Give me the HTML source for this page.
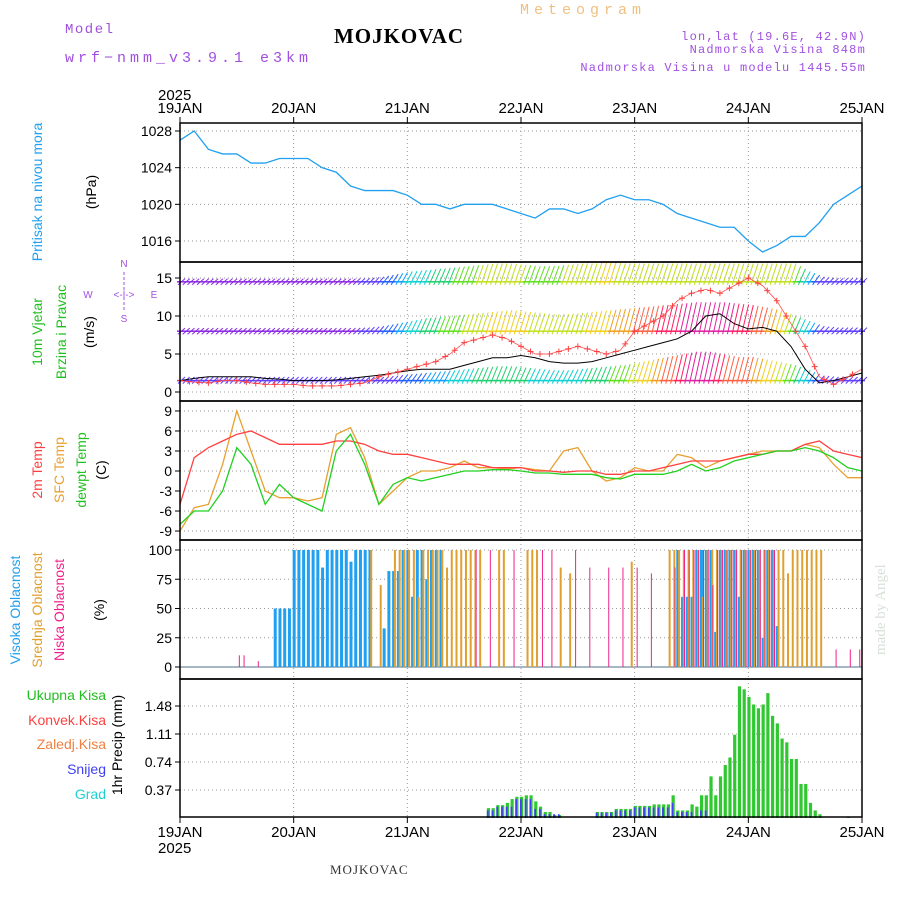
<!DOCTYPE html>
<html><head><meta charset="utf-8"><style>
body{margin:0;background:#fff}
svg{display:block;font-family:"Liberation Sans",sans-serif}
</style></head><body>
<svg id="c" width="900" height="900" viewBox="0 0 900 900">
<text x="65" y="33" fill="#a050e0" font-size="14" font-family="Liberation Mono,monospace" letter-spacing="1.5">Model</text>
<text x="65" y="62" fill="#a050e0" font-size="15" font-family="Liberation Mono,monospace" letter-spacing="4">wrf−nmm_v3.9.1 e3km</text>
<text x="399" y="43" text-anchor="middle" font-family="Liberation Serif,serif" font-weight="bold" font-size="21" letter-spacing="1">MOJKOVAC</text>
<text x="520" y="14" fill="#f0c080" font-size="15" font-family="Liberation Mono,monospace" letter-spacing="5">Meteogram</text>
<text x="866" y="40" text-anchor="end" fill="#a050e0" font-size="12" font-family="Liberation Mono,monospace" letter-spacing="1.2">lon,lat (19.6E, 42.9N)</text>
<text x="866" y="53" text-anchor="end" fill="#a050e0" font-size="12" font-family="Liberation Mono,monospace" letter-spacing="1.2">Nadmorska Visina 848m</text>
<text x="866" y="71" text-anchor="end" fill="#a050e0" font-size="12" font-family="Liberation Mono,monospace" letter-spacing="1.2">Nadmorska Visina u modelu 1445.55m</text>
<text x="158" y="100" font-size="15">2025</text>
<text x="158" y="853" font-size="15">2025</text>
<text x="330" y="874" font-family="Liberation Serif,serif" font-size="13" fill="#333" letter-spacing="1">MOJKOVAC</text>
<text transform="translate(885,655) rotate(-90)" fill="#d8e0d8" font-family="Liberation Serif,serif" font-size="15">made by Angel</text>
<g id="g"></g>
</svg>
<script>
const days=["19JAN","20JAN","21JAN","22JAN","23JAN","24JAN","25JAN"];
const pressure=[1027,1028,1026,1025.5,1025.5,1024.5,1024.5,1025,1025,1025,1024,1023.5,1022,1021.5,1021.5,1021.5,1021,1020,1020,1019.5,1020,1020,1020,1019.5,1019,1018.5,1019.5,1019.5,1019,1019.5,1020.5,1021,1020.5,1020.5,1020,1019,1018.5,1018,1017.5,1017.5,1016,1014.8,1015.5,1016.5,1016.5,1018,1020,1021,1022];
const windMean=[1.5,1.8,2,2,2,2,1.8,1.7,1.5,1.5,1.5,1.6,1.8,2,2.2,2.5,2.8,3,3,3,3.5,4,4.5,4.5,4.8,4.5,4,3.8,3.8,4,4.5,5,5.5,6,6.5,7,8,10,10.3,9,8.3,8.5,8,6,3,1.2,1.5,2,2.5];
const windGust=[1.5,1.3,1.2,1.5,1.5,1.2,1,1,1,0.8,0.8,0.8,1,1.2,2,2.5,3,3.5,4,5,6.5,7,7.5,7,6,5,5,5.5,6,5.5,5,5.5,8,9,10,12,13,13.5,13,14,15,14,12,9,6,2,1,2,3];
const windLow=[0.5,0.5,0.5,0.5,0.5,0.5,0.5,0.5,0.5,0.5,0.5,0.5,0.5,0.5,0.5,1,1.5,2,2.5,3,3.5,4,4.5,4.5,4,3.5,3,3,3.5,4,4.5,5,6,7,8,9,10,10,9,8,8,7,6,5,3,1,0.5,0.5,0.5];
const windMid=[0.3,0.3,0.3,0.3,0.3,0.3,0.3,0.3,0.3,0.3,0.3,0.3,0.3,0.5,1,2,3,4,4.5,5,5.5,6,6.5,7,6.5,6,5.5,5.5,6,6.5,7,7.5,8,8.5,9,9.5,10,10,10,9.5,9,8,7,5,3,1,0.5,0.5,0.5];
const windTop=[0.3,0.3,0.3,0.3,0.3,0.3,0.3,0.3,0.3,0.3,0.3,0.3,0.3,0.5,1,2,3,3.5,4,4.5,5,5.5,6,6,5.5,5,5,5.5,6,6,6.5,6,6,6,6,6,6,6,6,6,6,6,6,6,3,1,0.5,0.5,0.5];
const temp2m=[-5,2,3.5,4.5,5.5,6,5,4,4,4,4,4.5,4.5,4,3,2.5,2.5,2,1.5,1,1,1,0.5,0.5,0.5,0,0,-0.2,0,0,-0.5,-0.5,0,0,0.5,1,1.5,1.5,1.5,2,2.5,2.5,3,3,4,4.5,3,2.5,2];
const tempSfc=[-9,-5.5,-5,1,9,3,-3,-4,-4,-4.5,-4,5.5,6.5,2,-5,-3,-1,0,0,0.5,1.5,0.5,0.5,0.3,0.5,0.2,0,3,3.5,0,-1.5,-1,0.5,0,0,2.5,2,0.5,1.5,2,2.5,3,3,3,4,3.5,1,-1,-1];
const tempDew=[-8,-6,-6,-3,3.5,1,-5,-2,-4,-5,-6,3,5.5,1,-5,-2,-1,-1.5,-1,-0.5,0,0,0.2,0.2,0,-0.3,-0.3,-0.5,-0.5,-0.5,-1,-1.2,-0.5,-0.5,-0.5,0,1,0,0.5,1.5,2,2.5,3,3,3.5,3,2,0.5,0];
function runs(spec){const a=new Array(144).fill(0);spec.forEach(([s,e,v])=>{for(let h=s;h<=e;h++)a[h]=v});return a;}
const cloudHigh=runs([[20,23,50],[24,40,100],[30,30,85],[36,36,90],[43,43,33],[44,46,82],[47,55,100],[49,49,60],[52,52,75],[105,105,100],[106,108,60],[109,112,100],[113,113,30],[114,117,100],[118,118,60],[119,122,100],[123,123,25],[124,125,100],[126,126,35]]);
const cloudMid=runs([[40,40,100],[42,42,70],[45,63,100],[50,50,60],[56,56,85],[67,68,100],[73,75,100],[80,80,85],[82,82,80],[95,95,90],[103,135,100],[110,110,60],[128,128,80]]);
const cloudLow=runs([[12,13,10],[16,16,5],[62,62,100],[65,65,100],[70,70,100],[76,76,100],[78,78,100],[83,83,100],[86,86,85],[90,90,85],[93,93,85],[96,96,85],[99,99,80],[104,104,85],[106,125,100],[112,112,70],[138,138,15],[141,141,15],[143,143,15]]);
const precipTotal=runs([[65,66,0.13],[67,68,0.17],[69,69,0.2],[70,70,0.25],[71,72,0.28],[73,74,0.3],[75,75,0.22],[76,76,0.15],[77,78,0.08],[79,80,0.04],[88,91,0.08],[92,95,0.12],[96,99,0.16],[100,103,0.18],[104,104,0.3],[105,107,0.1],[108,108,0.18],[109,109,0.15],[110,111,0.3],[112,112,0.55],[113,113,0.3],[114,114,0.55],[115,115,0.7],[116,116,0.8],[117,117,1.1],[118,118,1.74],[119,119,1.7],[120,120,1.6],[121,121,1.5],[122,122,1.45],[123,123,1.5],[124,124,1.65],[125,125,1.35],[126,126,1.25],[127,127,1.05],[128,128,1.0],[129,130,0.78],[131,132,0.45],[133,133,0.2],[134,134,0.1],[135,135,0.05],[141,141,0.02]]);
const precipSnow=runs([[65,66,0.1],[67,70,0.15],[71,74,0.25],[75,76,0.12],[77,80,0.05],[88,91,0.07],[92,95,0.1],[96,103,0.14],[104,104,0.2],[105,108,0.08],[110,111,0.1]]);

const NS="http://www.w3.org/2000/svg",G=document.getElementById('g');
function el(t,a,txt){const e=document.createElementNS(NS,t);for(const k in a)e.setAttribute(k,a[k]);if(txt!=null)e.textContent=txt;G.appendChild(e);return e;}
const X0=180,X1=862,xH=h=>X0+(X1-X0)*h/144, x3=i=>xH(i*3);
const P=[{t:123,b:262},{t:262,b:401},{t:401,b:540},{t:540,b:679},{t:679,b:817}];
const yP=v=>131+(1028-v)*110/12, yW=v=>392-v*7.6, yT=v=>471-v*6.67, yC=v=>667-v*1.17, yR=v=>818-v*28/0.37;
const palette=["#8a2be2","#6040ff","#2060ff","#10a0ff","#10d0d0","#20d070","#60e020","#c0e020","#f0d020","#f0a020","#ff6040","#ff2060","#e020a0"];
const wcol=s=>palette[Math.max(0,Math.min(palette.length-1,Math.round(s)))];

[[P[0],[1016,1020,1024,1028],yP],[P[1],[0,5,10,15],yW],[P[2],[-9,-6,-3,0,3,6,9],yT],[P[3],[0,25,50,75,100],yC],[P[4],[0.37,0.74,1.11,1.48],yR]].forEach(([p,ticks,f],pi)=>{
 for(let d=1;d<6;d++){const g=el('line',{x1:X0+d*(X1-X0)/6,x2:X0+d*(X1-X0)/6,y1:p.t,y2:p.b,stroke:'#999','stroke-dasharray':'1 3'});}
 ticks.forEach(v=>{const y=f(v);const g=el('line',{x1:X0,x2:X1,y1:y,y2:y,stroke:'#999','stroke-dasharray':'1 3'});
  el('line',{x1:X0-5,x2:X0,y1:y,y2:y,stroke:'#000'});
  const t=el('text',{x:X0-8,y:y+5,'text-anchor':'end','font-size':14},String(v));});
});
let d="";pressure.forEach((v,i)=>d+=(i?"L":"M")+x3(i)+","+yP(v));
let pl=el('path',{d:d,fill:'none',stroke:'#20a0f0','stroke-width':1.3});


[[windLow,1.5],[windMid,8],[windTop,14.5]].forEach(([arr,base])=>{
 for(let h=0;h<=144;h++){const i=Math.min(47,Math.floor(h/3)),f=(h%3)/3;const s=h>=144?arr[48]:arr[i]*(1-f)+arr[i+1]*f;
  const x=xH(h),y0=yW(base),y1=yW(base+s*0.35+0.3);
  const l=el('line',{x1:x-2,y1:y0+3,x2:x+5,y2:y1,stroke:wcol(s*1.2),'stroke-width':1});
  
  
  el('line',{x1:x-3,y1:y0,x2:x+3,y2:y0,stroke:wcol(s*1.2),'stroke-width':1.5});}
});
d="";windMean.forEach((v,i)=>d+=(i?"L":"M")+x3(i)+","+yW(v));
let wm=el('path',{d:d,fill:'none',stroke:'#000','stroke-width':1});


d="";windGust.forEach((v,i)=>d+=(i?"L":"M")+x3(i)+","+yW(v));
let wg=el('path',{d:d,fill:'none',stroke:'#ff5050','stroke-width':0.8});


for(let h=0;h<144;h+=2){const i=Math.floor(h/3),f=(h%3)/3,v=windGust[i]*(1-f)+windGust[i+1]*f,x=xH(h),y=yW(v);
 const c=el('path',{d:`M${x-3},${y}h6M${x},${y-3}v6`,stroke:'#ff4040','stroke-width':1});
 
 }
[[tempSfc,'#e8a030','sfc-temp-line'],[temp2m,'#ff4040','temp-2m-line'],[tempDew,'#20d020','dewpoint-line']].forEach(([a,c,n])=>{
 let d="";a.forEach((v,i)=>d+=(i?"L":"M")+x3(i)+","+yT(v));
 const p=el('path',{d:d,fill:'none',stroke:c,'stroke-width':1.3});
 
 });
el('line',{x1:X0,x2:X1,y1:yC(0),y2:yC(0),stroke:'#88a0b0','stroke-width':1.5});
[[cloudHigh,'#20a0f0',-1,3],[cloudMid,'#e0a030',0.8,2],[cloudLow,'#f0208c',2,1]].forEach(([a,c,off,w])=>{
 a.forEach((v,h)=>{if(v>0){const b=el('rect',{x:xH(h)+off,y:yC(v),width:w,height:yC(0)-yC(v),fill:c});
  
  }});});
precipTotal.forEach((v,h)=>{if(v>0){const b=el('rect',{x:xH(h)-1,y:yR(v),width:3.2,height:yR(0)-yR(v),fill:'#30c830'});
 
 }});
precipSnow.forEach((v,h)=>{if(v>0){const b=el('rect',{x:xH(h)-1,y:yR(v),width:1.8,height:yR(0)-yR(v),fill:'#4040f0'});
 
 }});
P.forEach(p=>{el('rect',{x:X0,y:p.t,width:X1-X0,height:p.b-p.t,fill:'none',stroke:'#000','stroke-width':1.5});});
days.forEach((dn,i)=>{const x=X0+i*(X1-X0)/6;
 let t=el('text',{x:x,y:113,'text-anchor':'middle','font-size':15},dn);
 t=el('text',{x:x,y:837,'text-anchor':'middle','font-size':15},dn);
 el('line',{x1:x,x2:x,y1:117,y2:123,stroke:'#000'});el('line',{x1:x,x2:x,y1:817,y2:823,stroke:'#000'});});
function rot(txt,x,y,c,n,fs){const t=el('text',{transform:`translate(${x},${y}) rotate(-90)`,'text-anchor':'middle',fill:c,'font-size':fs||14},txt);}
rot("Pritisak na nivou mora",42,192,'#20a0f0','pressure-title');rot("(hPa)",96,192,'#000','pressure-unit');
rot("10m Vjetar",42,332,'#20c020','wind-title');rot("Brzina i Pravac",66,332,'#20c020','wind-title-2');rot("(m/s)",94,332,'#000','wind-unit');
rot("2m Temp",42,470,'#ff4040','temp-2m-title');rot("SFC Temp",64,470,'#e8a030','sfc-temp-title');rot("dewpt Temp",86,470,'#20c020','dewpt-title');rot("(C)",106,470,'#000','temp-unit');
rot("Visoka Oblacnost",20,610,'#20a0f0','high-cloud-title');rot("Srednja Oblacnost",42,610,'#e0a030','mid-cloud-title');rot("Niska Oblacnost",64,610,'#f0208c','low-cloud-title');rot("(%)",104,610,'#000','cloud-unit');
rot("1hr Precip (mm)",122,745,'#000','precip-title');
[["Ukupna Kisa",'#20c020',700],["Konvek.Kisa",'#ff4040',725],["Zaledj.Kisa",'#f08040',749],["Snijeg",'#4040f0',774],["Grad",'#20d0d0',799]].forEach(([s,c,y])=>{
 const t=el('text',{x:106,y:y,'text-anchor':'end',fill:c,'font-size':14},s);});
const cp=el('g',{});
[["N",124,267],["S",124,322],["W",88,298],["E",154,298]].forEach(([s,x,y])=>{el('text',{x:x,y:y,'text-anchor':'middle',fill:'#a050e0','font-size':10},s);});
el('text',{x:124,y:298,'text-anchor':'middle',fill:'#a050e0','font-size':10},"<-|->");
el('line',{x1:124,x2:124,y1:272,y2:312,stroke:'#a050e0','stroke-dasharray':'3 2'});
</script>
</body></html>
